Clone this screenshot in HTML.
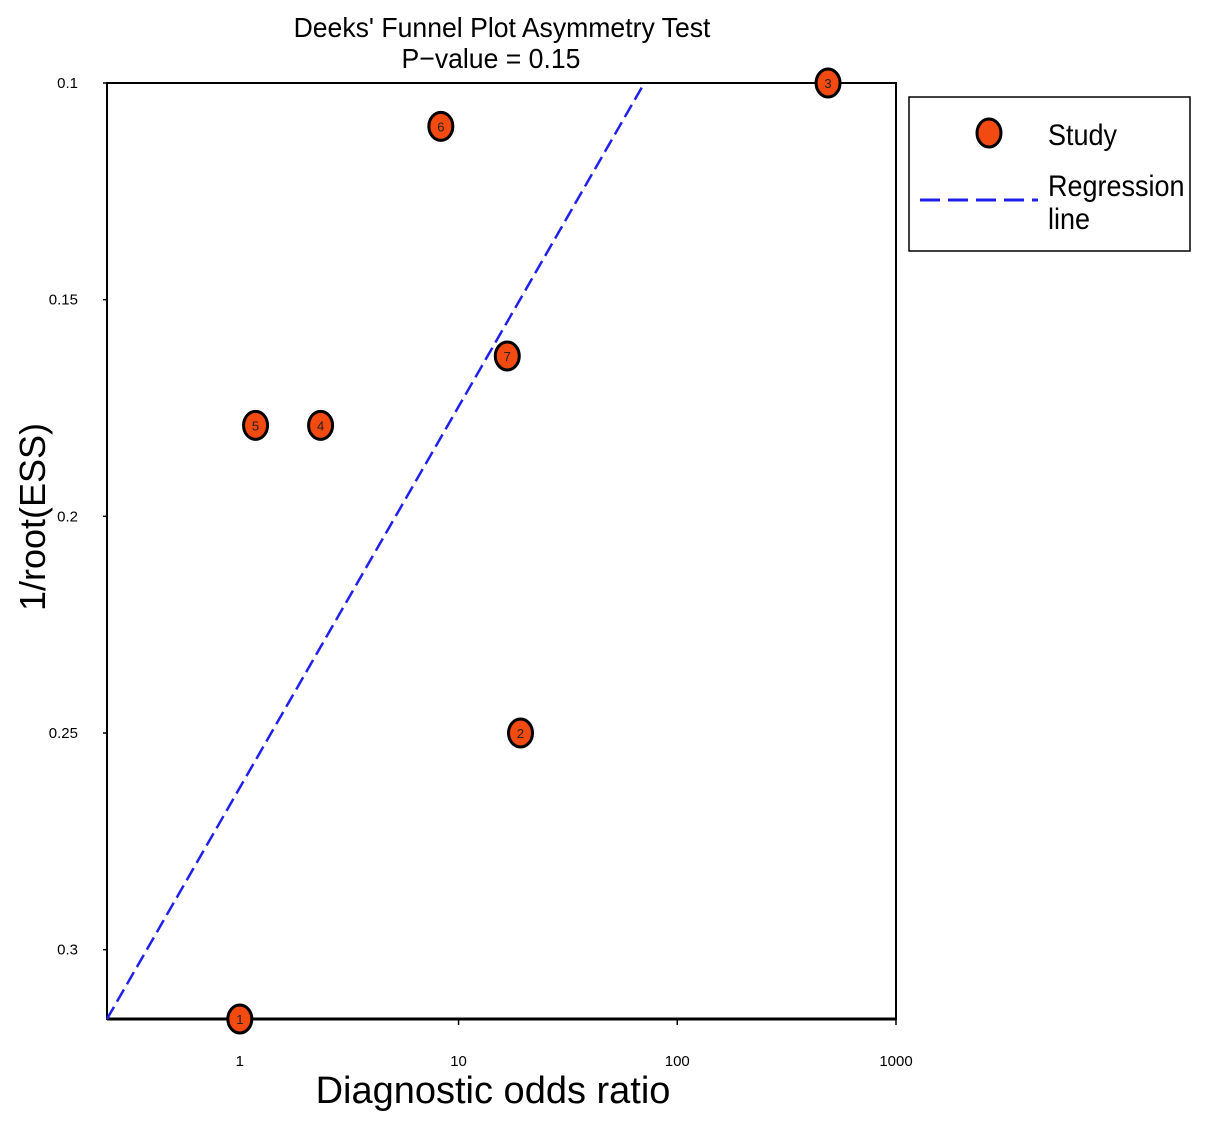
<!DOCTYPE html>
<html><head><meta charset="utf-8"><style>
body{margin:0;background:#fff;}
svg text{font-family:"Liberation Sans",sans-serif;}
</style></head><body>
<svg id="c" width="1205" height="1127" xmlns="http://www.w3.org/2000/svg">
<g id="g"></g>
</svg>
<script>
const studyIds=[1,2,3,4,5,6,7];
const dorValues=[1.0,19.2,489,2.34,1.18,8.3,16.7];
const essValues=[0.316,0.250,0.100,0.179,0.179,0.110,0.163];
const xTicks=[1,10,100,1000];
const xTickLabels=["1","10","100","1000"];
const yTicks=[0.1,0.15,0.2,0.25,0.3];
const yTickLabels=["0.1","0.15","0.2","0.25","0.3"];
const regX=[0.247,70.7];
const regY=[0.316,0.1];

const L=107,R=896,T=83,B=1019;
const xMin=Math.log10(0.247),xMax=3;
const yMin=0.1,yMax=0.316;
const sx=v=>L+(Math.log10(v)-xMin)/(xMax-xMin)*(R-L);
const sy=v=>T+(v-yMin)/(yMax-yMin)*(B-T);
const NS="http://www.w3.org/2000/svg";
const g=document.getElementById('g');
function mk(t,a,txt){const e=document.createElementNS(NS,t);for(const k in a)e.setAttribute(k,a[k]);if(txt!==undefined)e.textContent=txt;g.appendChild(e);return e;}

let e;
e=mk('rect',{x:L,y:T,width:R-L,height:B-T,fill:'none',stroke:'#000','stroke-width':2});


e=mk('line',{x1:L,y1:B,x2:R,y2:B,stroke:'#000','stroke-width':3});



xTicks.forEach((v,i)=>{
 const x=sx(v);
 let t=mk('line',{x1:x,y1:B,x2:x,y2:B+6,stroke:'#000','stroke-width':1.5});
 
 
 t=mk('text',{x:x,y:B+47,'font-size':15,'text-anchor':'middle'},xTickLabels[i]);
 
 
});
yTicks.forEach((v,i)=>{
 const y=sy(v);
 let t=mk('line',{x1:L-4,y1:y,x2:L,y2:y,stroke:'#000','stroke-width':1.5});
 
 
 t=mk('text',{x:78,y:y+5,'font-size':15,'text-anchor':'end'},yTickLabels[i]);
 
 
});

e=mk('line',{x1:sx(regX[0]),y1:sy(regY[0]),x2:sx(regX[1]),y2:sy(regY[1]),stroke:'#2020ee','stroke-width':2.5,'stroke-dasharray':'14,6'});



studyIds.forEach((id,i)=>{
 const x=sx(dorValues[i]),y=sy(essValues[i]);
 let c=mk('ellipse',{cx:x,cy:y,rx:12,ry:14,fill:'#f24a10',stroke:'#000','stroke-width':3});
 
 
 let t=mk('text',{x:x,y:y+5,'font-size':13,'text-anchor':'middle',fill:'#222'},String(id));
 
 
});

function label(txt,x,y,size,name,extra){
 const t=mk('text',Object.assign({x:x,y:y,'font-size':size,'text-anchor':'middle'},extra||{}),txt);
 
 
 return t;
}
label("Deeks' Funnel Plot Asymmetry Test",0,37,28,'chart-title',{transform:'translate(502,0) scale(0.95,1)'});
label("P\u2212value =  0.15",0,68,28,'p-value-subtitle',{transform:'translate(491,0) scale(0.95,1)'});
label("Diagnostic odds ratio",0,0,38,'x-axis-title',{transform:'translate(493,1103) scale(1.0,1)'});
label("1/root(ESS)",0,0,36,'y-axis-title',{transform:'translate(45,517) rotate(-90)'});

e=mk('rect',{x:909,y:97,width:281,height:154,fill:'#fff',stroke:'#000','stroke-width':1.5});


e=mk('ellipse',{cx:989,cy:133,rx:12,ry:14,fill:'#f24a10',stroke:'#000','stroke-width':3});


e=mk('line',{x1:920,y1:200,x2:1038,y2:200,stroke:'#2020ee','stroke-width':3,'stroke-dasharray':'20,8'});


const lt=(txt,y,name)=>{const t=mk('text',{x:0,y:0,'font-size':30,transform:`translate(1048,${y}) scale(0.9,1)`},txt);};
lt('Study',145,'legend-study-label');
lt('Regression',196,'legend-regression-label');
lt('line',229,'legend-regression-label-2');
</script>
</body></html>
